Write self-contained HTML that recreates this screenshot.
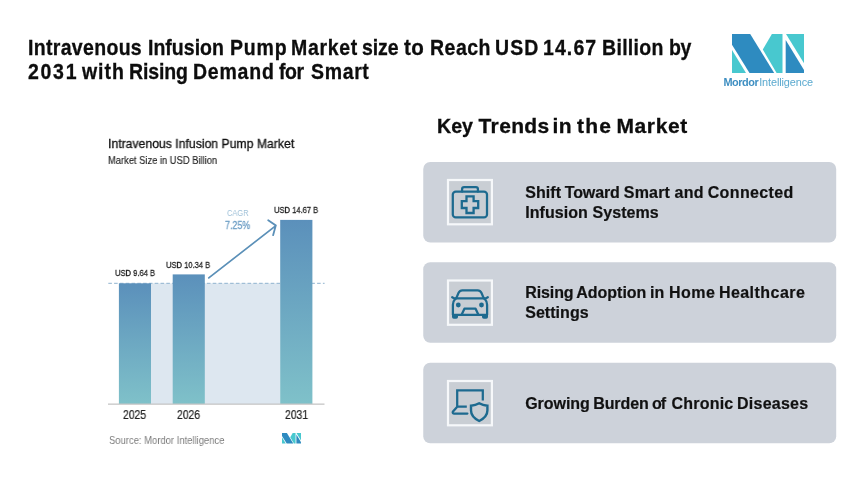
<!DOCTYPE html>
<html><head><meta charset="utf-8">
<style>
*{margin:0;padding:0;box-sizing:border-box}
html,body{width:860px;height:477px;background:#fff;overflow:hidden}
body{position:relative;font-family:"Liberation Sans",sans-serif;color:#111}
.abs{position:absolute;white-space:nowrap;will-change:transform}
#title{left:28px;top:36px;font-size:21.2px;-webkit-text-stroke:0.3px #0d0d0d;font-weight:bold;line-height:24.5px;color:#0d0d0d}
#title span{position:absolute;white-space:nowrap;transform:scaleX(0.92);transform-origin:0 0}
#kt{left:437px;top:114.45px;font-size:21px;font-weight:bold;line-height:24px;color:#0d0d0d;-webkit-text-stroke:0.3px #0d0d0d}
#kt span{position:absolute;white-space:nowrap}
.card{position:absolute;left:423.2px;width:413px;height:80.4px}
.ct{position:absolute;left:102px;font-size:16px;font-weight:bold;line-height:20.3px;color:#111;-webkit-text-stroke:0.2px #111;white-space:nowrap}
#ctitle{left:108px;top:137.2px;font-size:12.5px;color:#111;transform:scaleX(0.978);transform-origin:0 0;-webkit-text-stroke:0.3px #111}
#csub{left:108px;top:154.8px;font-size:10.3px;color:#222;transform:scaleX(0.908);transform-origin:0 0;-webkit-text-stroke:0.15px #222}
.bl{font-size:9.6px;line-height:11px;color:#1c1c1c;-webkit-text-stroke:0.3px #1c1c1c;transform:scaleX(0.79);transform-origin:0 0}
.yl{font-size:12px;line-height:13px;color:#222;transform:scaleX(0.865);transform-origin:0 0;-webkit-text-stroke:0.2px #222}
</style></head><body>
<div id="title" class="abs"><span style="left:0.0px;top:0;letter-spacing:0.35px">Intravenous</span><span style="left:119.8px;top:0;letter-spacing:0.02px">Infusion</span><span style="left:201.5px;top:0;letter-spacing:0.93px">Pump</span><span style="left:263.2px;top:0;letter-spacing:0.76px">Market</span><span style="left:334.3px;top:0;letter-spacing:-0.12px">size</span><span style="left:375.6px;top:0;letter-spacing:0.51px;transform:scaleX(0.97)">to</span><span style="left:401.7px;top:0;letter-spacing:0.55px">Reach</span><span style="left:466.6px;top:0;letter-spacing:1.19px">USD</span><span style="left:514.7px;top:0;letter-spacing:1.19px">14.67</span><span style="left:574.1px;top:0;letter-spacing:0.35px">Billion</span><span style="left:640.7px;top:0;letter-spacing:-0.36px">by</span><span style="left:0.0px;top:24px;letter-spacing:1.87px">2031</span><span style="left:54.2px;top:24px;letter-spacing:1.03px">with</span><span style="left:101.2px;top:24px;letter-spacing:-0.15px">Rising</span><span style="left:164.8px;top:24px;letter-spacing:0.86px">Demand</span><span style="left:250.9px;top:24px;letter-spacing:-0.55px">for</span><span style="left:282.5px;top:24px;letter-spacing:0.71px">Smart</span></div>

<svg class="abs" style="left:732px;top:34px" width="72" height="39" viewBox="0 0 72 39">
<polygon points="0,0 18.2,0 42.2,39 17.5,39 0,10.8" fill="#2e8bc0"/>
<polygon points="0,16 14,39 0,39" fill="#48c8cf"/>
<polygon points="39.9,0 50.5,0 50.5,39 44.6,39 30.8,15.5" fill="#48c8cf"/>
<polygon points="53.7,6 72,36 72,39 53.7,39" fill="#2e8bc0"/>
<polygon points="54,0 72,0 72,29.2" fill="#48c8cf"/>
</svg>
<div class="abs" id="mi" style="left:0;top:76.2px;font-size:10.9px;line-height:13px"><b style="position:absolute;left:723.5px;letter-spacing:-0.45px;color:#3f8fc2">Mordor</b><span style="position:absolute;left:759.2px;letter-spacing:-0.11px;color:#5aa9cf">Intelligence</span></div>

<div id="kt" class="abs"><span style="left:0.0px;top:0;letter-spacing:0px;transform:scaleX(0.935);transform-origin:0 0">Key</span><span style="left:41.6px;top:0;letter-spacing:0.35px">Trends</span><span style="left:115.4px;top:0;letter-spacing:0.6px">in</span><span style="left:140.0px;top:0;letter-spacing:1.23px">the</span><span style="left:179.4px;top:0;letter-spacing:0.63px">Market</span></div>

<svg class="abs" style="left:0;top:0" width="860" height="477" viewBox="0 0 860 477">
<rect x="423.25" y="161.9" width="412.95" height="80.55" rx="7" fill="#cdd2da"/>
<rect x="423.25" y="262.3" width="412.95" height="80.45" rx="7" fill="#cdd2da"/>
<rect x="423.25" y="362.8" width="412.95" height="80.45" rx="7" fill="#cdd2da"/>
<rect x="448" y="180" width="43.9" height="44.3" fill="#c9ced4" stroke="#f6f8fa" stroke-width="2.2"/>
<rect x="448" y="280.5" width="43.9" height="44.3" fill="#c9ced4" stroke="#f6f8fa" stroke-width="2.2"/>
<rect x="448" y="381" width="43.9" height="44.3" fill="#c9ced4" stroke="#f6f8fa" stroke-width="2.2"/>
</svg>
<div class="card" style="top:162.2px"><div class="ct" style="top:21px"><span style="position:absolute;left:0.0px;top:0;letter-spacing:0.07px">Shift</span><span style="position:absolute;left:39.5px;top:0;letter-spacing:-0.11px">Toward</span><span style="position:absolute;left:98.6px;top:0;letter-spacing:0.2px">Smart</span><span style="position:absolute;left:149.4px;top:0;letter-spacing:0.2px">and</span><span style="position:absolute;left:182.5px;top:0;letter-spacing:0.37px">Connected</span><span style="position:absolute;left:0;top:20.3px;letter-spacing:0.07px">Infusion Systems</span></div></div>
<div class="card" style="top:262.6px"><div class="ct" style="top:20.4px"><span style="position:absolute;left:0.0px;top:0;letter-spacing:-0.1px">Rising</span><span style="position:absolute;left:51.1px;top:0;letter-spacing:-0.02px">Adoption</span><span style="position:absolute;left:124.8px;top:0;letter-spacing:0.08px">in</span><span style="position:absolute;left:143.8px;top:0;letter-spacing:0.46px">Home</span><span style="position:absolute;left:193.7px;top:0;letter-spacing:0.46px">Healthcare</span><span style="position:absolute;left:0;top:20.3px;letter-spacing:0.05px">Settings</span></div></div>
<div class="card" style="top:363px"><div class="ct" style="top:31.4px"><span style="position:absolute;left:0.0px;top:0;letter-spacing:-0.04px">Growing</span><span style="position:absolute;left:68.1px;top:0;letter-spacing:-0.12px">Burden</span><span style="position:absolute;left:126.8px;top:0;letter-spacing:-1.0px">of</span><span style="position:absolute;left:146.2px;top:0;letter-spacing:0.24px">Chronic</span><span style="position:absolute;left:211.8px;top:0;letter-spacing:0.25px">Diseases</span></div></div>

<svg class="abs" style="left:0;top:0" width="860" height="477" viewBox="0 0 860 477" fill="none" stroke="#1d6a8f" stroke-width="2.25" stroke-linejoin="round" stroke-linecap="round">
<!-- icon1 medical kit -->
<rect x="452.8" y="191.6" width="34.2" height="25.8" rx="3"/>
<path d="M462.1 191.6 V189 a2 2 0 0 1 2 -2 H475.9 a2 2 0 0 1 2 2 V191.6"/>
<path d="M466.5 196.3 H473.6 V201.2 H478.2 V208 H473.6 V213 H466.5 V208 H461.8 V201.2 H466.5 Z" stroke-linejoin="miter" stroke-width="2.3"/>
<!-- icon2 car -->
<path d="M456.2 298.4 L458.6 292.7 Q459.8 290.3 462.3 290.3 H477.7 Q480.2 290.3 481.4 292.7 L483.8 298.4"/>
<path d="M452.2 297.2 L454.4 298.4 H485.6 L487.8 297.2"/>
<path d="M455.4 298.7 Q452.9 301.2 452.9 304.8 V314.8 H487.1 V304.8 Q487.1 301.2 484.6 298.7"/>
<path d="M461.6 314.8 L464.4 308.7 H475.6 L478.4 314.8"/>
<circle cx="458.3" cy="305" r="2.4" fill="#1d6a8f" stroke="none"/>
<circle cx="481.5" cy="305" r="2.4" fill="#1d6a8f" stroke="none"/>
<path d="M452 314.8 H458 V317 Q458 318.8 456.2 318.8 H453.8 Q452 318.8 452 317 Z" fill="#1d6a8f" stroke="none"/>
<path d="M482 314.8 H488 V317 Q488 318.8 486.2 318.8 H483.8 Q482 318.8 482 317 Z" fill="#1d6a8f" stroke="none"/>
<!-- icon3 laptop shield -->
<path d="M466.8 406.7 H457.2 V390.3 H482.8 V400.6" stroke-linejoin="miter" stroke-linecap="butt"/>
<path d="M456.6 407.4 L452.8 411.8 Q452.3 413.6 454.2 413.6 H467.4"/>
<path d="M471 405.7 Q475.6 405.4 479.2 403.3 Q482.8 405.4 487.4 405.7 V410.5 Q487.4 416.8 479.2 421 Q471 416.8 471 410.5 Z" stroke-linejoin="miter" stroke-width="2.4"/>
</svg>
<div id="ctitle" class="abs">Intravenous Infusion Pump Market</div>
<div id="csub" class="abs">Market Size in USD Billion</div>


<svg class="abs" style="left:0;top:0" width="860" height="477" viewBox="0 0 860 477">
<defs><linearGradient id="bg" x1="0" y1="0" x2="0" y2="1"><stop offset="0" stop-color="#5b90bb"/><stop offset="1" stop-color="#7fc1c9"/></linearGradient></defs>
<rect x="151" y="283.3" width="129.2" height="120.7" fill="#dde7f0"/>
<line x1="108.3" y1="283.3" x2="324.6" y2="283.3" stroke="#8fb3cf" stroke-width="1" stroke-dasharray="3.6,2.2"/>
<rect x="118.9" y="283.3" width="32.1" height="120.7" fill="url(#bg)"/>
<rect x="172.7" y="274.4" width="32.1" height="129.6" fill="url(#bg)"/>
<rect x="280.2" y="219.9" width="32.2" height="184.1" fill="url(#bg)"/>
<rect x="108" y="403.5" width="216.5" height="1.3" fill="#c6c6c6"/>
</svg>
<div class="abs bl" style="left:115px;top:266.6px">USD 9.64 B</div>
<div class="abs bl" style="left:166.4px;top:259.4px">USD 10.34 B</div>
<div class="abs bl" style="left:273.6px;top:203.5px">USD 14.67 B</div>
<div class="abs" style="left:227.2px;top:207.8px;font-size:9.3px;line-height:11px;color:#9fc0d8;transform:scaleX(0.80);transform-origin:0 0">CAGR</div>
<div class="abs" style="left:224.6px;top:219.1px;font-size:10.6px;line-height:13px;color:#6a9cc4;-webkit-text-stroke:0.3px #6a9cc4;transform:scaleX(0.84);transform-origin:0 0">7.25%</div>
<svg class="abs" style="left:200px;top:210px" width="90" height="80" viewBox="200 210 90 80"><path d="M208.8 277.9 L275.6 225.9 M268.2 220.3 L275.8 225.4 L273.1 235.2" fill="none" stroke="#5b90b8" stroke-width="1.8" stroke-linecap="round" stroke-linejoin="miter"/></svg>
<div class="abs yl" style="left:123.4px;top:409.4px">2025</div>
<div class="abs yl" style="left:177.3px;top:409.4px">2026</div>
<div class="abs yl" style="left:284.6px;top:409.4px">2031</div>
<div class="abs" style="left:109px;top:434.2px;font-size:10.6px;line-height:13px;color:#7c7c7c;transform:scaleX(0.891);transform-origin:0 0">Source: Mordor Intelligence</div>
<svg class="abs" style="left:282px;top:432.8px" width="19.3" height="10.5" viewBox="0 0 72 39" preserveAspectRatio="none">
<polygon points="0,0 18.2,0 42.2,39 17.5,39 0,10.8" fill="#2e8bc0"/>
<polygon points="0,16 14,39 0,39" fill="#48c8cf"/>
<polygon points="39.9,0 50.5,0 50.5,39 44.6,39 30.8,15.5" fill="#48c8cf"/>
<polygon points="53.7,6 72,36 72,39 53.7,39" fill="#2e8bc0"/>
<polygon points="54,0 72,0 72,29.2" fill="#48c8cf"/>
</svg>
</body></html>
